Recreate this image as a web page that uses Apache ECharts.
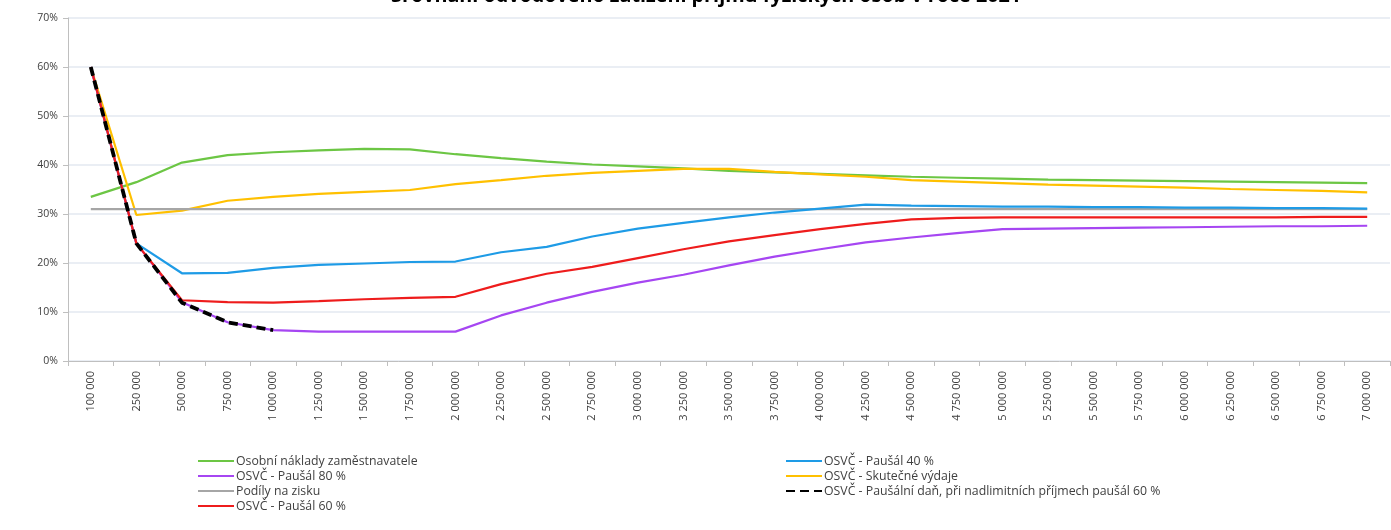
<!DOCTYPE html>
<html>
<head>
<meta charset="utf-8">
<script src="https://cdn.jsdelivr.net/npm/echarts@6/dist/echarts.min.js"></script>
<style>
  html, body { margin: 0; padding: 0; background: #ffffff; }
  #chart { width: 1391px; height: 530px; }
</style>
</head>
<body>
<div id="chart"></div>
<script>
// Annual income (CZK)
const incomes = [100000, 250000, 500000, 750000, 1000000, 1250000, 1500000, 1750000, 2000000,
  2250000, 2500000, 2750000, 3000000, 3250000, 3500000, 3750000, 4000000, 4250000, 4500000,
  4750000, 5000000, 5250000, 5500000, 5750000, 6000000, 6250000, 6500000, 6750000, 7000000];

// Levy burden in % of income
const zamestnanec = [33.5, 36.5, 40.5, 42.0, 42.6, 43.0, 43.3, 43.2, 42.2, 41.4, 40.7, 40.1, 39.7, 39.3,
  38.8, 38.5, 38.2, 37.9, 37.6, 37.4, 37.2, 37.0, 36.9, 36.8, 36.7, 36.6, 36.5, 36.4, 36.3];
const pausal40 = [60.0, 24.0, 17.9, 18.0, 19.0, 19.6, 19.9, 20.2, 20.3, 22.2, 23.3, 25.4, 27.0, 28.2,
  29.3, 30.3, 31.1, 31.9, 31.7, 31.6, 31.5, 31.5, 31.4, 31.4, 31.3, 31.3, 31.2, 31.2, 31.1];
const pausal80 = [60.0, 24.0, 12.0, 7.9, 6.3, 6.0, 6.0, 6.0, 6.0, 9.3, 11.9, 14.1, 16.0, 17.6,
  19.5, 21.3, 22.8, 24.2, 25.2, 26.1, 26.9, 27.0, 27.1, 27.2, 27.3, 27.4, 27.5, 27.5, 27.6];
const skutecneVydaje = [60.0, 29.8, 30.7, 32.7, 33.5, 34.1, 34.5, 34.9, 36.1, 36.9, 37.8, 38.4, 38.8, 39.2,
  39.2, 38.6, 38.1, 37.6, 36.9, 36.6, 36.3, 36.0, 35.8, 35.6, 35.4, 35.1, 34.9, 34.7, 34.4];
const podilyNaZisku = [31.0, 31.0, 31.0, 31.0, 31.0, 31.0, 31.0, 31.0, 31.0, 31.0, 31.0, 31.0, 31.0, 31.0,
  31.0, 31.0, 31.0, 31.0, 31.0, 31.0, 31.0, 31.0, 31.0, 31.0, 31.0, 31.0, 31.0, 31.0, 31.0];
const pausalniDan = [60.0, 24.0, 11.9, 7.9, 6.3];
const pausal60 = [60.0, 24.0, 12.4, 12.0, 11.9, 12.2, 12.6, 12.9, 13.1, 15.7, 17.8, 19.2, 21.0, 22.8,
  24.4, 25.7, 26.9, 28.0, 28.9, 29.2, 29.3, 29.3, 29.3, 29.3, 29.3, 29.3, 29.3, 29.4, 29.4];

const yTicks = { min: 0, max: 70, step: 10 };

const names = {
  zam: 'Osobní náklady zaměstnavatele',
  p40: 'OSVČ - Paušál 40 %',
  p80: 'OSVČ - Paušál 80 %',
  sk: 'OSVČ - Skutečné výdaje',
  pod: 'Podíly na zisku',
  dan: 'OSVČ - Paušální daň, při nadlimitních příjmech paušál 60 %',
  p60: 'OSVČ - Paušál 60 %'
};

const fmtIncome = v => String(v).replace(/\B(?=(\d{3})+(?!\d))/g, ' ');
const font = 'Open Sans';

function line(name, data, color, extra) {
  return Object.assign({
    name, type: 'line', data, symbol: 'none', silent: true,
    lineStyle: { color, width: 2.2 }, itemStyle: { color }
  }, extra || {});
}

const legendText = { fontFamily: font, fontSize: 12.3, color: '#404040', padding: [0, 0, 0, -3] };

const chart = echarts.init(document.getElementById('chart'), null, { renderer: 'canvas' });
chart.setOption({
  animation: false,
  backgroundColor: '#ffffff',
  title: {
    text: 'Srovnání odvodového zatížení příjmů fyzických osob v roce 2021',
    left: 386, top: -19,
    textStyle: { fontFamily: font, fontSize: 19.8, fontWeight: 'bold', color: '#000000' }
  },
  grid: { left: 68, right: 1, top: 18, bottom: 169 },
  xAxis: {
    type: 'category',
    data: incomes.map(fmtIncome),
    boundaryGap: true,
    axisLine: { lineStyle: { color: '#bfbfbf', width: 1 } },
    axisTick: { show: true, alignWithLabel: false, length: 5, lineStyle: { color: '#bfbfbf' } },
    axisLabel: { rotate: 90, interval: 0, margin: 10, fontFamily: font, fontSize: 11, color: '#404040' },
    splitLine: { show: false }
  },
  yAxis: {
    type: 'value',
    min: yTicks.min, max: yTicks.max, interval: yTicks.step,
    axisLine: { show: true, lineStyle: { color: '#bfbfbf' } },
    axisTick: { show: true, length: 5, lineStyle: { color: '#bfbfbf' } },
    axisLabel: { formatter: '{value}%', margin: 10, fontFamily: font, fontSize: 10.5, color: '#404040' },
    splitLine: { lineStyle: { color: '#e3e8f0', width: 1.5 } }
  },
  legend: [
    {
      orient: 'vertical', left: 192, top: 450, itemWidth: 36, itemHeight: 8, itemGap: 3,
      itemStyle: { opacity: 0 },
      textStyle: legendText,
      data: [names.zam, names.p80, names.pod, names.p60]
    },
    {
      orient: 'vertical', left: 780, top: 450, itemWidth: 36, itemHeight: 8, itemGap: 3,
      itemStyle: { opacity: 0 },
      textStyle: legendText,
      data: [names.p40, names.sk, names.dan]
    }
  ],
  series: [
    line(names.zam, zamestnanec, '#6cc644'),
    line(names.sk, skutecneVydaje, '#ffc000'),
    line(names.pod, podilyNaZisku, '#a6a6a6'),
    line(names.p40, pausal40, '#1e9be6'),
    line(names.p80, pausal80, '#a646f2'),
    line(names.p60, pausal60, '#ee1c1c'),
    line(names.dan, pausalniDan, '#000000', { lineStyle: { color: '#000000', width: 3.8, type: [9, 5] }, z: 5 })
  ]
});
</script>
</body>
</html>
